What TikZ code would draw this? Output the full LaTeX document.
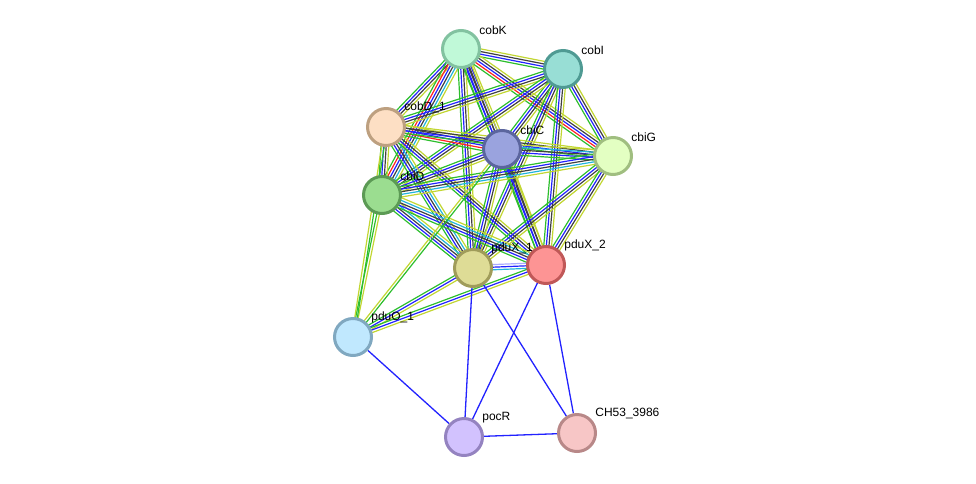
\documentclass[tikz,border=0pt]{standalone}
\usepackage{fontspec}
\setmainfont{Liberation Sans}
\usepackage{tikz}
\usetikzlibrary{calc, backgrounds}

% evidence colours
\definecolor{egreen}{HTML}{2DBE2D}
\definecolor{eblue}{HTML}{2222FF}
\definecolor{eblack}{HTML}{404040}
\definecolor{eyellow}{HTML}{C2D632}
\definecolor{ered}{HTML}{FF2222}
\definecolor{ecyan}{HTML}{22B4DC}
\definecolor{elav}{HTML}{AAAAFF}

% protein colours (fill / rim)
\definecolor{cobKf}{HTML}{C0F9D8} \definecolor{cobKd}{HTML}{82C2A0}
\definecolor{cobIf}{HTML}{98DED5} \definecolor{cobId}{HTML}{4F9A93}
\definecolor{cobDf}{HTML}{FDDFC4} \definecolor{cobDd}{HTML}{BDA080}
\definecolor{cbiCf}{HTML}{9AA3DE} \definecolor{cbiCd}{HTML}{5B659E}
\definecolor{cbiGf}{HTML}{E3FFC2} \definecolor{cbiGd}{HTML}{A0BE80}
\definecolor{cbiDf}{HTML}{9BDD90} \definecolor{cbiDd}{HTML}{5C9A55}
\definecolor{pduXaf}{HTML}{DEDC96} \definecolor{pduXad}{HTML}{A09C5A}
\definecolor{pduXbf}{HTML}{FD9494} \definecolor{pduXbd}{HTML}{C05858}
\definecolor{pduOf}{HTML}{C0E8FE} \definecolor{pduOd}{HTML}{80A8C0}
\definecolor{pocRf}{HTML}{D2C2FE} \definecolor{pocRd}{HTML}{9483C0}
\definecolor{chf}{HTML}{F7C6C6} \definecolor{chd}{HTML}{B88888}

\tikzstyle{prot} = [circle, minimum size=37pt, inner sep=0pt, line width=3pt]
\tikzstyle{lbl} = [anchor=south west, inner sep=0pt, xshift=4pt, yshift=0pt, font=\fontsize{12}{14}\selectfont]
\tikzstyle{single} = [eblue, line width=1.3pt]

% bundle of parallel evidence lines between two nodes
\newcommand{\evlink}[3]{%
  \xdef\evn{0}%
  \foreach \c in {#3} {\pgfmathtruncatemacro\evt{\evn+1}\xdef\evn{\evt}}%
  \foreach \c [count=\i] in {#3} {%
    \pgfmathsetmacro\evoff{(\i-(\evn+1)/2)*2.6}%
    \draw[\c, line width=1.2pt] ($(#1)!\evoff pt!90:(#2)$) -- ($(#2)!\evoff pt!-90:(#1)$);
  }}

\begin{document}
\begin{tikzpicture}[x=1pt, y=-1pt]
    \useasboundingbox (0,0) rectangle (976,483);

    % proteins
    \node (cobK) [prot, fill=cobKf, draw=cobKd, label={[lbl]45:cobK}] at (461,49) {};
    \node (cobI) [prot, fill=cobIf, draw=cobId, label={[lbl]45:cobI}] at (563,69) {};
    \node (cobD) [prot, fill=cobDf, draw=cobDd, label={[lbl]45:cobD\_1}] at (386,127) {};
    \node (cbiC) [prot, fill=cbiCf, draw=cbiCd, label={[lbl]45:cbiC}] at (502,149) {};
    \node (cbiG) [prot, fill=cbiGf, draw=cbiGd, label={[lbl]45:cbiG}] at (613,156) {};
    \node (cbiD) [prot, fill=cbiDf, draw=cbiDd, label={[lbl]45:cbiD}] at (382,195) {};
    \node (pduXa) [prot, fill=pduXaf, draw=pduXad, label={[lbl]45:pduX\_1}] at (473,268) {};
    \node (pduXb) [prot, fill=pduXbf, draw=pduXbd, label={[lbl]45:pduX\_2}] at (546,265) {};
    \node (pduO) [prot, fill=pduOf, draw=pduOd, label={[lbl]45:pduO\_1}] at (353,337) {};
    \node (pocR) [prot, fill=pocRf, draw=pocRd, label={[lbl]45:pocR}] at (464,437) {};
    \node (ch53) [prot, fill=chf, draw=chd, label={[lbl]45:CH53\_3986}] at (577,433) {};

    \begin{pgfonlayer}{background}
        % cob/cbi cluster
        \evlink{cobK}{cobI}{egreen,eblue,eblack,eyellow}
        \evlink{cobK}{cobD}{egreen,eblue,eblack,eyellow}
        \evlink{cobK}{cbiD}{egreen,ered,eblue,eblack,ecyan,eyellow}
        \evlink{cobK}{cbiC}{egreen,eblue,eblack,eblue,eyellow}
        \evlink{cobK}{cbiG}{egreen,ered,eblue,eblack,eyellow}
        \evlink{cobK}{pduXa}{egreen,eblue,eblack,eyellow}
        \evlink{cobK}{pduXb}{egreen,eblue,eblack,eyellow}
        \evlink{cobI}{cobD}{egreen,eblue,eblack,eyellow}
        \evlink{cobI}{cbiC}{egreen,eblue,eblack,eyellow}
        \evlink{cobI}{cbiG}{egreen,eblue,eblack,eyellow}
        \evlink{cobI}{cbiD}{egreen,eblue,eblack,eyellow}
        \evlink{cobI}{pduXa}{egreen,eblue,eblack,eyellow}
        \evlink{cobI}{pduXb}{egreen,eblue,eblack,eyellow}
        \evlink{cobD}{cbiC}{egreen,ered,eblue,eblack,eyellow}
        \evlink{cobD}{cbiG}{egreen,eblue,eblack,eyellow}
        \evlink{cobD}{cbiD}{egreen,eblue,eblack,eyellow}
        \evlink{cobD}{pduXa}{egreen,eblue,eblack,ecyan,eyellow}
        \evlink{cobD}{pduXb}{egreen,eblue,eblack,eyellow}
        \evlink{cbiC}{cbiG}{egreen,eblue,eblack,ecyan,eyellow}
        \evlink{cbiC}{cbiD}{egreen,eblue,eblack,eyellow}
        \evlink{cbiC}{pduXa}{egreen,eblue,eblack,eyellow}
        \evlink{cbiC}{pduXb}{egreen,eblue,eblack,eyellow}
        \evlink{cbiG}{cbiD}{egreen,eblue,eblack,ecyan,eyellow}
        \evlink{cbiG}{pduXa}{egreen,eblue,eblack,eyellow}
        \evlink{cbiG}{pduXb}{egreen,eblue,eblack,eyellow}
        \evlink{cbiD}{pduXa}{egreen,eblue,eblack,ecyan,eyellow}
        \evlink{cbiD}{pduXb}{egreen,eblue,eblack,ecyan,eyellow}
        \evlink{pduXa}{pduXb}{ecyan,eblue,elav}

        % pduO_1
        \evlink{pduO}{cbiD}{eyellow,egreen}
        \evlink{pduO}{cobD}{egreen,eyellow}
        \evlink{pduO}{cbiC}{egreen,eyellow}
        \evlink{pduO}{pduXa}{eyellow,eblue,egreen}
        \evlink{pduO}{pduXb}{eyellow,eblue,egreen}

        % single links
        \draw [single] (pduO) -- (pocR);
        \draw [single] (pduXa) -- (pocR);
        \draw [single] (pduXa) -- (ch53);
        \draw [single] (pduXb) -- (pocR);
        \draw [single] (pduXb) -- (ch53);
        \draw [single] (pocR) -- (ch53);
    \end{pgfonlayer}
\end{tikzpicture}
\end{document}
